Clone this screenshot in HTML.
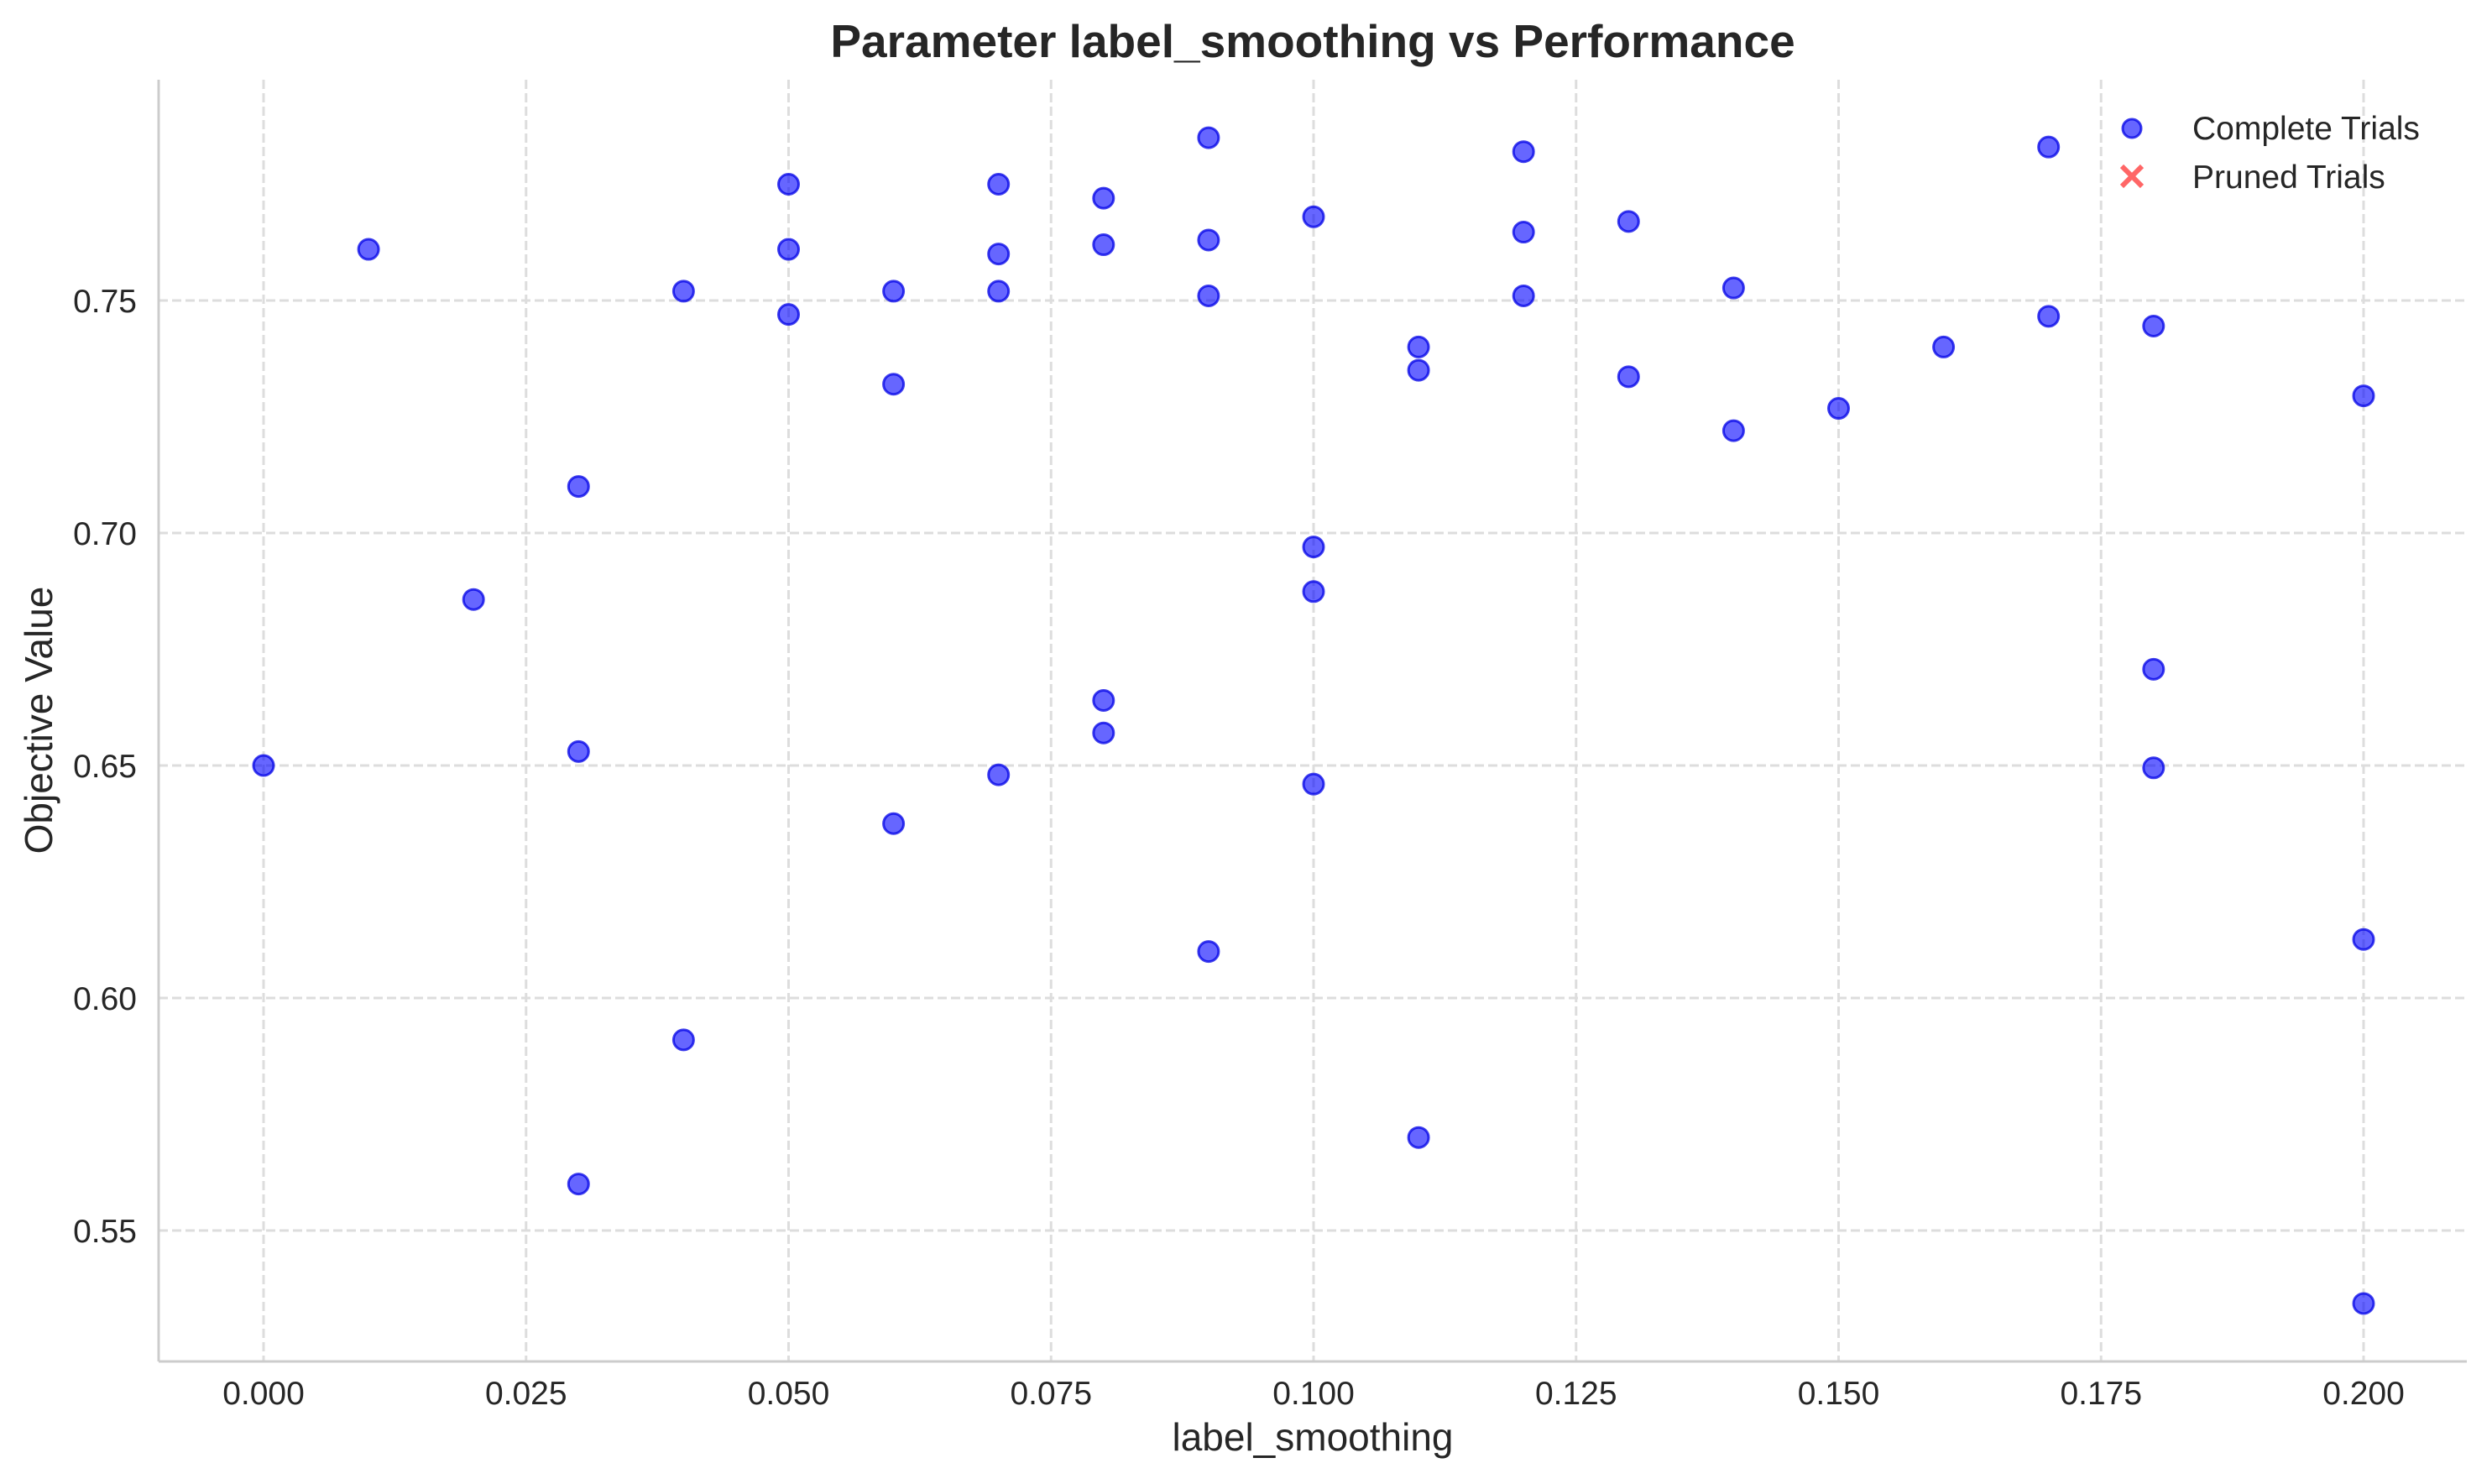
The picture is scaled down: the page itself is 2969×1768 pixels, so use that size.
<!DOCTYPE html>
<html><head><meta charset="utf-8"><style>
html,body{margin:0;padding:0;background:#fff;}
svg{display:block;font-family:"Liberation Sans",sans-serif;}
</style></head><body>
<svg id="chart" width="2969" height="1768" viewBox="0 0 2969 1768">
<rect width="2969" height="1768" fill="#fff"/>
<g id="grid"></g>
<g id="ticks"></g>
<g id="points"></g>
<line x1="189" y1="95" x2="189" y2="1622" stroke="#cccccc" stroke-width="3"/>
<line x1="189" y1="1622" x2="2939" y2="1622" stroke="#cccccc" stroke-width="3"/>
<text x="1564" y="68" text-anchor="middle" font-size="55" font-weight="bold" fill="#262626">Parameter label_smoothing vs Performance</text>
<text x="1564" y="1728" text-anchor="middle" font-size="46" fill="#262626">label_smoothing</text>
<text transform="translate(62,858) rotate(-90)" text-anchor="middle" font-size="46" fill="#262626">Objective Value</text>
<g>
<g>
<circle cx="2540" cy="153" r="11" fill="rgba(0,0,255,0.6)" stroke="rgba(0,0,230,0.75)" stroke-width="3"/>
<text x="2612" y="166" font-size="39" fill="#262626">Complete Trials</text>
</g>
<g>
<path d="M2528 198 L2552 222 M2552 198 L2528 222" stroke="#ff6666" stroke-width="6"/>
<text x="2612" y="224" font-size="39" fill="#262626">Pruned Trials</text>
</g>
</g>
</svg>
<script>
const xValues=[0.00,0.01,0.02,0.03,0.03,0.03,0.04,0.04,0.05,0.05,0.05,0.06,0.06,0.06,0.07,0.07,0.07,0.07,0.08,0.08,0.08,0.08,0.09,0.09,0.09,0.09,0.10,0.10,0.10,0.10,0.11,0.11,0.11,0.12,0.12,0.12,0.13,0.13,0.14,0.14,0.15,0.16,0.17,0.17,0.18,0.18,0.18,0.20,0.20,0.20];
const yValues=[0.650,0.761,0.6857,0.710,0.653,0.560,0.752,0.591,0.775,0.761,0.747,0.752,0.732,0.6375,0.775,0.760,0.752,0.648,0.772,0.762,0.664,0.657,0.785,0.763,0.751,0.610,0.768,0.697,0.6874,0.646,0.740,0.735,0.570,0.782,0.7647,0.751,0.767,0.7336,0.7527,0.722,0.7268,0.740,0.783,0.7466,0.7445,0.6707,0.6495,0.7295,0.6126,0.5343];
const xTicks=[0,0.025,0.05,0.075,0.1,0.125,0.15,0.175,0.2];
const xTickLabels=["0.000","0.025","0.050","0.075","0.100","0.125","0.150","0.175","0.200"];
const yTicks=[0.55,0.60,0.65,0.70,0.75];
const yTickLabels=["0.55","0.60","0.65","0.70","0.75"];
const NS="http://www.w3.org/2000/svg";
function xs(v){return 314+(v-0)*(2816-314)/0.2;}
function ys(v){return 358+(0.75-v)*(1466-358)/0.2;}
function mk(tag,attrs,parent){const e=document.createElementNS(NS,tag);for(const k in attrs)e.setAttribute(k,attrs[k]);parent.appendChild(e);return e;}
const grid=document.getElementById('grid'),ticks=document.getElementById('ticks'),pts=document.getElementById('points');
xTicks.forEach((t,i)=>{
 const l=mk('line',{x1:xs(t),x2:xs(t),y1:95,y2:1622,stroke:'#dddddd','stroke-width':3,'stroke-dasharray':'11 5'},grid);
 
 
 const tx=mk('text',{x:xs(t),y:1673,'text-anchor':'middle','font-size':39,fill:'#262626'},ticks);
 tx.textContent=xTickLabels[i];
 
 
});
yTicks.forEach((t,i)=>{
 const l=mk('line',{x1:189,x2:2939,y1:ys(t),y2:ys(t),stroke:'#dddddd','stroke-width':3,'stroke-dasharray':'11 5'},grid);
 
 
 const tx=mk('text',{x:163,y:ys(t)+14,'text-anchor':'end','font-size':39,fill:'#262626'},ticks);
 tx.textContent=yTickLabels[i];
 
 
});
xValues.forEach((x,i)=>{
 const c=mk('circle',{cx:xs(x),cy:ys(yValues[i]),r:12,fill:'rgba(0,0,255,0.6)',stroke:'rgba(0,0,230,0.75)','stroke-width':3},pts);
 
 
});
</script>
</body></html>
